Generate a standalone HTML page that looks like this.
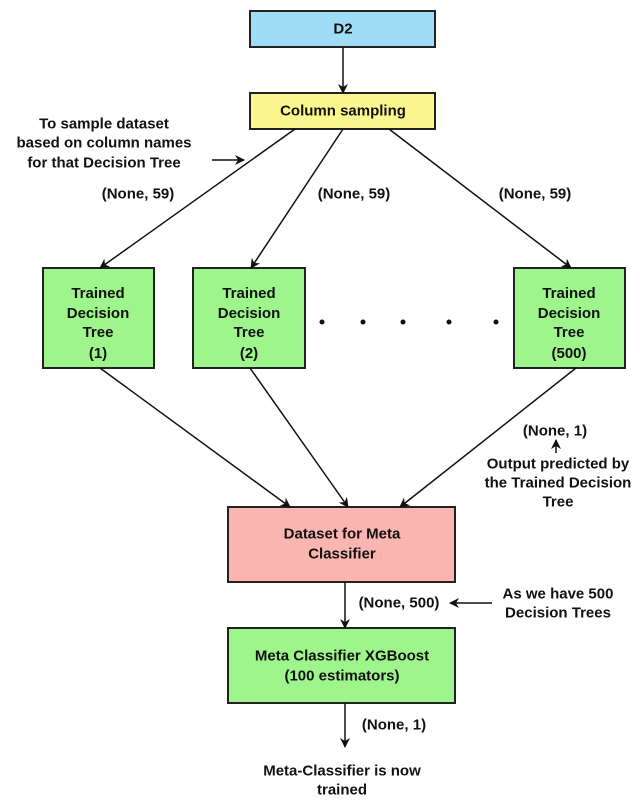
<!DOCTYPE html>
<html><head><style>
body{margin:0;background:#fff;}
svg text{font-family:"Liberation Sans",sans-serif;font-weight:bold;font-size:15px;fill:#111;text-anchor:middle;dominant-baseline:central;}
</style></head><body>
<svg width="640" height="796" viewBox="0 0 640 796" xmlns="http://www.w3.org/2000/svg">
<defs><marker id="a" markerWidth="10" markerHeight="10" refX="9" refY="5" orient="auto" markerUnits="userSpaceOnUse"><path d="M0,0 L10,5 L0,10 L3,5 z" fill="#111"/></marker></defs>
<g stroke="#222" stroke-width="2">
<rect x="250" y="11" width="185" height="36" fill="#9fddf6"/>
<rect x="250" y="93" width="185" height="36" fill="#fbf78e"/>
<rect x="43" y="268" width="111" height="100" fill="#9df58c"/>
<rect x="193" y="268" width="112" height="100" fill="#9df58c"/>
<rect x="514" y="268" width="111" height="100" fill="#9df58c"/>
<rect x="228" y="507" width="227" height="75" fill="#fbb5b0"/>
<rect x="228" y="628" width="227" height="75" fill="#9df58c"/>
</g>
<g stroke="#111" stroke-width="1.5" fill="none" marker-end="url(#a)">
<line x1="343" y1="47" x2="343" y2="93"/>
<line x1="295" y1="129" x2="100" y2="268"/>
<line x1="343" y1="129" x2="251" y2="268"/>
<line x1="389" y1="129" x2="571" y2="268"/>
<line x1="100" y1="368" x2="290" y2="507"/>
<line x1="250" y1="368" x2="348" y2="507"/>
<line x1="576" y1="368" x2="400" y2="507"/>
<line x1="345" y1="582" x2="345" y2="628"/>
<line x1="345" y1="703" x2="345" y2="747"/>
<line x1="212" y1="160" x2="244" y2="160"/>
<line x1="492" y1="603" x2="450" y2="603"/>
<line x1="556" y1="453" x2="556" y2="440"/>
</g>
<g fill="#111"><circle cx="322" cy="322" r="2.5"/><circle cx="363" cy="322" r="2.5"/><circle cx="403" cy="322" r="2.5"/><circle cx="449" cy="322" r="2.5"/><circle cx="496" cy="322" r="2.5"/></g>
<text x="343" y="29">D2</text>
<text x="343" y="111">Column sampling</text>
<text x="104" y="124">To sample dataset</text>
<text x="104" y="143">based on column names</text>
<text x="104" y="163">for that Decision Tree</text>
<text x="138" y="194">(None, 59)</text>
<text x="354" y="194">(None, 59)</text>
<text x="535" y="194">(None, 59)</text>
<text font-size="16"><tspan x="98" y="293">Trained</tspan><tspan x="98" y="313">Decision</tspan><tspan x="98" y="332">Tree</tspan><tspan x="98" y="353">(1)</tspan></text>
<text font-size="16"><tspan x="249" y="293">Trained</tspan><tspan x="249" y="313">Decision</tspan><tspan x="249" y="332">Tree</tspan><tspan x="249" y="353">(2)</tspan></text>
<text font-size="16"><tspan x="569" y="293">Trained</tspan><tspan x="569" y="313">Decision</tspan><tspan x="569" y="332">Tree</tspan><tspan x="569" y="353">(500)</tspan></text>
<text x="555" y="431">(None, 1)</text>
<text x="558" y="464">Output predicted by</text>
<text x="558" y="483">the Trained Decision</text>
<text x="558" y="502">Tree</text>
<text x="342" y="534">Dataset for Meta</text>
<text x="342" y="554">Classifier</text>
<text x="399" y="603">(None, 500)</text>
<text x="558" y="594">As we have 500</text>
<text x="558" y="613">Decision Trees</text>
<text x="342" y="656">Meta Classifier XGBoost</text>
<text x="342" y="676">(100 estimators)</text>
<text x="394" y="725">(None, 1)</text>
<text x="342" y="771">Meta-Classifier is now</text>
<text x="342" y="790">trained</text>
</svg>
</body></html>
